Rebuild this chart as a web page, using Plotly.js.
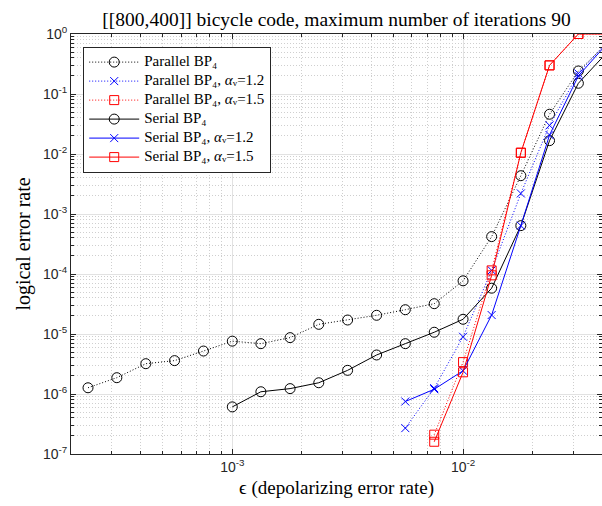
<!DOCTYPE html>
<html><head><meta charset="utf-8">
<script src="https://cdn.plot.ly/plotly-3.0.1.min.js"></script>
<style>body{margin:0;padding:0;background:#fff}</style>
</head><body><div id="chart" style="width:602px;height:506px"></div>
<script>
// depolarizing error rates (x) per series
const epsParallel = [2.37e-4, 3.16e-4, 4.22e-4, 5.62e-4, 7.5e-4, 1e-3, 1.33e-3, 1.78e-3, 2.37e-3, 3.16e-3, 4.22e-3, 5.62e-3, 7.5e-3, 1e-2, 1.33e-2, 1.78e-2, 2.37e-2, 3.16e-2, 4.22e-2];
const parallelBP4 = [1.27e-6, 1.87e-6, 3.2e-6, 3.6e-6, 5.2e-6, 7.6e-6, 6.9e-6, 8.7e-6, 1.45e-5, 1.71e-5, 2.05e-5, 2.54e-5, 3.2e-5, 7.7e-5, 4.2e-4, 4.35e-3, 4.6e-2, 0.242, 0.7];

const epsSerial = [1e-3, 1.33e-3, 1.78e-3, 2.37e-3, 3.16e-3, 4.22e-3, 5.62e-3, 7.5e-3, 1e-2, 1.33e-2, 1.78e-2, 2.37e-2, 3.16e-2, 4.22e-2];
const serialBP4 = [6.1e-7, 1.09e-6, 1.23e-6, 1.54e-6, 2.48e-6, 4.47e-6, 6.9e-6, 1.07e-5, 1.76e-5, 5.8e-5, 6.4e-4, 1.67e-2, 0.151, 0.5];

const epsA12 = [5.62e-3, 7.5e-3, 1e-2, 1.33e-2, 1.78e-2, 2.37e-2, 3.16e-2, 4.22e-2];
const parallelA12 = [2.7e-7, 1.25e-6, 9.0e-6, 1.15e-4, 2.2e-3, 3.0e-2, 0.22, 0.75];
const serialA12 = [7.5e-7, 1.2e-6, 2.44e-6, 2.07e-5, 6.4e-4, 2.07e-2, 0.2, 0.7];

const epsA15 = [7.5e-3, 1e-2, 1.33e-2, 1.78e-2, 2.37e-2, 3.16e-2, 4.22e-2];
const parallelA15 = [2.1e-7, 3.4e-6, 1.15e-4, 1.05e-2, 0.3, 1.0, 1.0];
const serialA15 = [1.6e-7, 2.3e-6, 9.5e-5, 1.05e-2, 0.3, 1.0, 1.0];

const names = ['Parallel BP₄', 'Parallel BP₄, <i>α</i>ᵥ=1.2', 'Parallel BP₄, <i>α</i>ᵥ=1.5',
               'Serial BP₄', 'Serial BP₄, <i>α</i>ᵥ=1.2', 'Serial BP₄, <i>α</i>ᵥ=1.5'];

const xTickVals = [1e-3, 1e-2];
const xTickText = ['10<sup>-3</sup>', '10<sup>-2</sup>'];
const yTickVals = [1e-7, 1e-6, 1e-5, 1e-4, 1e-3, 1e-2, 1e-1, 1];
const yTickText = ['10<sup>-7</sup>', '10<sup>-6</sup>', '10<sup>-5</sup>', '10<sup>-4</sup>', '10<sup>-3</sup>', '10<sup>-2</sup>', '10<sup>-1</sup>', '10<sup>0</sup>'];

function label(t) { return '<span style="font-size:15px">' + t + '</span>'; }
function mk(x, y, name, color, dash, symbol, size) {
  return {x: x, y: y, name: label(name), type: 'scatter', mode: 'lines+markers', cliponaxis: true,
    line: {color: color, width: 1, dash: dash},
    marker: {symbol: symbol, size: size, color: color, line: {color: color, width: 1}}};
}
const DOT = '1px,2px';
const traces = [
  mk(epsParallel, parallelBP4, names[0], '#000000', DOT, 'circle-open', 10),
  mk(epsA12, parallelA12, names[1], '#0000ff', DOT, 'x-thin-open', 8),
  mk(epsA15, parallelA15, names[2], '#ff0000', DOT, 'square-open', 9),
  mk(epsSerial, serialBP4, names[3], '#000000', 'solid', 'circle-open', 10),
  mk(epsA12, serialA12, names[4], '#0000ff', 'solid', 'x-thin-open', 8),
  mk(epsA15, serialA15, names[5], '#ff0000', 'solid', 'square-open', 9)
];

const xMinor = [], yMinor = [];
for (let d = -4; d <= -2; d++) for (let m = 2; m <= 9; m++) xMinor.push(m * Math.pow(10, d));
for (let d = -7; d <= -1; d++) for (let m = 2; m <= 9; m++) yMinor.push(m * Math.pow(10, d));

const axisCommon = {
  type: 'log', showline: true, linecolor: '#262626', linewidth: 1, mirror: 'ticks',
  ticks: 'inside', ticklen: 5, tickcolor: '#262626', tickwidth: 1,
  showgrid: true, gridcolor: '#e2e2e2', gridwidth: 1, zeroline: false,
  tickfont: {family: 'Liberation Sans, Arial, sans-serif', size: 14, color: '#262626'},
  tickmode: 'array'
};

const layout = {
  width: 602, height: 506,
  margin: {l: 71, r: 0, t: 34, b: 52},
  paper_bgcolor: '#ffffff', plot_bgcolor: '#ffffff',
  title: {text: '[[800,400]] bicycle code, maximum number of iterations 90',
    font: {family: 'Liberation Serif, serif', size: 19.5, color: '#000'},
    x: 0.559, xanchor: 'center', y: 0.962, yanchor: 'middle', yref: 'container'},
  xaxis: Object.assign({}, axisCommon, {
    range: [Math.log10(2e-4), Math.log10(0.04)],
    tickvals: xTickVals, ticktext: xTickText,
    minor: {tickmode: 'array', tickvals: xMinor, ticks: 'inside', ticklen: 3, tickcolor: '#262626',
      showgrid: true, gridcolor: '#cfcfcf', griddash: '1px,2px', gridwidth: 1},
    title: {text: 'ϵ (depolarizing error rate)', font: {family: 'Liberation Serif, serif', size: 19, color: '#000'}, standoff: 6}
  }),
  yaxis: Object.assign({}, axisCommon, {
    range: [-7, 0],
    tickvals: yTickVals, ticktext: yTickText,
    minor: {tickmode: 'array', tickvals: yMinor, ticks: 'inside', ticklen: 3, tickcolor: '#262626',
      showgrid: true, gridcolor: '#cfcfcf', griddash: '1px,2px', gridwidth: 1},
    title: {text: 'logical error rate', font: {family: 'Liberation Serif, serif', size: 20, color: '#000'}, standoff: 6}
  }),
  showlegend: true,
  legend: {x: 0.023, y: 0.97, xanchor: 'left', yanchor: 'top', bgcolor: '#ffffff',
    bordercolor: '#262626', borderwidth: 1, itemwidth: 50, tracegroupgap: 0,
    font: {family: 'Liberation Serif, DejaVu Serif, serif', size: 10.5, color: '#000'}}
};

Plotly.newPlot('chart', traces, layout, {displayModeBar: false, staticPlot: true});
</script></body></html>
